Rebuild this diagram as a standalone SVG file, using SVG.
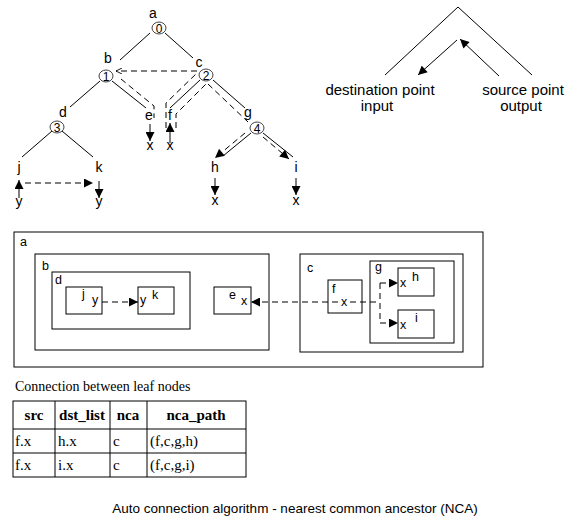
<svg xmlns="http://www.w3.org/2000/svg" width="586" height="523" viewBox="0 0 586 523">
<defs>
<marker id="ah" viewBox="0 0 10 10" refX="10" refY="5" markerWidth="10" markerHeight="9" markerUnits="userSpaceOnUse" orient="auto"><path d="M0,0 L10,5 L0,10 Z" fill="#000"/></marker>
<marker id="ao" viewBox="0 0 10 10" refX="10" refY="5" markerWidth="6" markerHeight="6" markerUnits="userSpaceOnUse" orient="auto"><path d="M0,0 L10,5 L0,10" fill="none" stroke="#000" stroke-width="1.5"/></marker>
</defs>
<style>
.t{font-family:"Liberation Sans",Arial,sans-serif;font-size:14px;fill:#000}
.n{font-family:"Liberation Sans",Arial,sans-serif;font-size:12px;fill:#000;text-anchor:middle}
.bl{font-family:"Liberation Sans",Arial,sans-serif;font-size:12.5px;fill:#000}
.s{font-family:"Liberation Serif","Times New Roman",serif;font-size:15px;fill:#000}
.sb{font-family:"Liberation Serif","Times New Roman",serif;font-size:15px;font-weight:bold;fill:#000;text-anchor:middle}
.ln{stroke:#000;stroke-width:1;fill:none}
.d{stroke:#000;stroke-width:1;fill:none;stroke-dasharray:6,4}
.bx{stroke:#000;stroke-width:1;fill:#fff}
.c{stroke:#444;stroke-width:1;fill:#fff}
.m{text-anchor:middle}
</style>
<rect width="586" height="523" fill="#fff"/>
<g id="connectors">
<line class="ln" x1="150" y1="33" x2="120" y2="60"/>
<line class="ln" x1="165" y1="33" x2="193" y2="58"/>
<line class="ln" x1="100" y1="81" x2="70" y2="107"/>
<line class="ln" x1="112" y1="81" x2="146" y2="108"/>
<line class="ln" x1="200" y1="80" x2="170" y2="108"/>
<line class="ln" x1="213" y1="80" x2="245" y2="108"/>
<line class="ln" x1="52" y1="131" x2="22" y2="157"/>
<line class="ln" x1="62" y1="131" x2="93" y2="157"/>
<line class="ln" x1="251" y1="133" x2="223" y2="156"/>
<line class="ln" x1="263" y1="133" x2="293" y2="157"/>
<polyline class="d" points="166,128 166,103 197,73"/>
<polyline class="d" points="176,128 176,114 206,84"/>
<line class="d" x1="197" y1="71" x2="116" y2="71" marker-end="url(#ao)"/>
<polyline class="d" points="121,79 154,106 154,118"/>
<line class="d" x1="208" y1="84" x2="248" y2="122"/>
<line class="d" x1="245" y1="133" x2="215" y2="158" marker-end="url(#ah)"/>
<line class="d" x1="263" y1="137" x2="289" y2="159" marker-end="url(#ah)"/>
<line class="d" x1="25" y1="183" x2="93" y2="183" marker-end="url(#ah)"/>
<line class="ln" x1="150" y1="124" x2="150" y2="141" marker-end="url(#ah)"/>
<line class="ln" x1="170" y1="143" x2="170" y2="123" marker-end="url(#ah)"/>
<line class="ln" x1="19" y1="198" x2="19" y2="180" marker-end="url(#ah)"/>
<line class="ln" x1="99" y1="181" x2="99" y2="198" marker-end="url(#ah)"/>
<line class="ln" x1="215" y1="178" x2="215" y2="195" marker-end="url(#ah)"/>
<line class="ln" x1="296" y1="178" x2="296" y2="195" marker-end="url(#ah)"/>
</g>
<g id="tree-labels">
<text class="t m" x="153" y="18">a</text>
<text class="t m" x="108" y="63">b</text>
<text class="t m" x="199" y="67">c</text>
<text class="t m" x="63" y="117">d</text>
<text class="t m" x="149" y="120">e</text>
<text class="t m" x="170" y="120">f</text>
<text class="t m" x="248" y="117">g</text>
<text class="t m" x="19" y="172">j</text>
<text class="t m" x="99" y="172">k</text>
<text class="t m" x="215" y="172">h</text>
<text class="t m" x="296" y="172">i</text>
<text class="t m" x="150" y="150">x</text>
<text class="t m" x="170" y="150">x</text>
<text class="t m" x="19" y="206">y</text>
<text class="t m" x="99" y="206">y</text>
<text class="t m" x="215" y="205">x</text>
<text class="t m" x="296" y="205">x</text>
</g>
<g id="n0"><ellipse class="c" cx="159" cy="28" rx="7" ry="6"/><text class="n" x="159" y="32.5">0</text></g>
<g id="n1"><ellipse class="c" cx="106" cy="76" rx="7" ry="6"/><text class="n" x="106" y="80.5">1</text></g>
<g id="n2"><ellipse class="c" cx="206" cy="75" rx="7" ry="6"/><text class="n" x="206" y="79.5">2</text></g>
<g id="n3"><ellipse class="c" cx="57" cy="127" rx="7" ry="6"/><text class="n" x="57" y="131.5">3</text></g>
<g id="n4"><ellipse class="c" cx="257" cy="128" rx="7" ry="6"/><text class="n" x="257" y="132.5">4</text></g>
<g id="legend">
<polyline class="ln" points="385,75 458,7 532,75"/>
<line class="ln" x1="457" y1="40" x2="418" y2="75" marker-end="url(#ah)"/>
<line class="ln" x1="499" y1="76" x2="460" y2="39" marker-end="url(#ah)"/>
<text class="t m" x="380" y="95" style="font-size:15px">destination point</text>
<text class="t m" x="377" y="111" style="font-size:15px">input</text>
<text class="t m" x="523" y="95" style="font-size:15px">source point</text>
<text class="t m" x="521" y="111" style="font-size:15px">output</text>
</g>
<g id="box-a"><rect class="bx" x="14" y="232" width="469" height="135"/><text class="bl" x="20" y="246">a</text></g>
<g id="box-b"><rect class="bx" x="35" y="254" width="234" height="96"/><text class="bl" x="42" y="270">b</text></g>
<g id="box-d"><rect class="bx" x="52" y="272" width="138" height="57"/><text class="bl" x="55" y="284">d</text></g>
<g id="box-j"><rect class="bx" x="66" y="287" width="36" height="27"/><text class="bl" x="82" y="298">j</text><text class="bl" x="92" y="304">y</text></g>
<g id="box-k"><rect class="bx" x="138" y="287" width="36" height="27"/><text class="bl" x="140" y="304">y</text><text class="bl" x="152" y="299">k</text></g>
<g id="box-e"><rect class="bx" x="214" y="287" width="37" height="27"/><text class="bl" x="229" y="299">e</text><text class="bl" x="241" y="305">x</text></g>
<g id="box-c"><rect class="bx" x="300" y="254" width="163" height="98"/><text class="bl" x="307" y="272">c</text></g>
<g id="box-f"><rect class="bx" x="328" y="280" width="34" height="33"/><text class="bl" x="332" y="293">f</text><text class="bl" x="341" y="306">x</text></g>
<g id="box-g"><rect class="bx" x="370" y="261" width="84" height="82"/><text class="bl" x="375" y="271">g</text></g>
<g id="box-h"><rect class="bx" x="398" y="268" width="36" height="28"/><text class="bl" x="400" y="287">x</text><text class="bl" x="412" y="281">h</text></g>
<g id="box-i"><rect class="bx" x="398" y="310" width="36" height="28"/><text class="bl" x="400" y="329">x</text><text class="bl" x="415" y="322">i</text></g>
<g id="box-connectors">
<line class="d" x1="102" y1="302" x2="138" y2="302" marker-end="url(#ah)"/>
<line class="d" x1="328" y1="302" x2="251" y2="302" marker-end="url(#ah)"/>
<line class="d" x1="332" y1="302" x2="340" y2="302"/>
<line class="d" x1="350" y1="302" x2="380" y2="302"/>
<line class="d" x1="380" y1="283" x2="380" y2="323"/>
<line class="d" x1="380" y1="283" x2="398" y2="283" stroke-dasharray="4,3" marker-end="url(#ah)"/>
<line class="d" x1="380" y1="323" x2="398" y2="323" stroke-dasharray="4,3" marker-end="url(#ah)"/>
</g>
<g id="table">
<text class="s" x="15" y="391" style="font-size:14px">Connection between leaf nodes</text>
<rect class="ln" x="13" y="401" width="233" height="76"/>
<line class="ln" x1="13" y1="429" x2="246" y2="429"/>
<line class="ln" x1="13" y1="453" x2="246" y2="453"/>
<line class="ln" x1="55" y1="401" x2="55" y2="477"/>
<line class="ln" x1="110" y1="401" x2="110" y2="477"/>
<line class="ln" x1="147" y1="401" x2="147" y2="477"/>
<text class="sb" x="34" y="420">src</text>
<text class="sb" x="82" y="420">dst_list</text>
<text class="sb" x="128" y="420">nca</text>
<text class="sb" x="196" y="420">nca_path</text>
<text class="s" x="15" y="446">f.x</text>
<text class="s" x="58" y="446">h.x</text>
<text class="s" x="113" y="446">c</text>
<text class="s" x="150" y="446">(f,c,g,h)</text>
<text class="s" x="15" y="470">f.x</text>
<text class="s" x="58" y="470">i.x</text>
<text class="s" x="113" y="470">c</text>
<text class="s" x="150" y="470">(f,c,g,i)</text>
</g>
<text class="t m" x="295" y="513" style="font-size:13.5px">Auto connection algorithm - nearest common ancestor (NCA)</text>
</svg>
